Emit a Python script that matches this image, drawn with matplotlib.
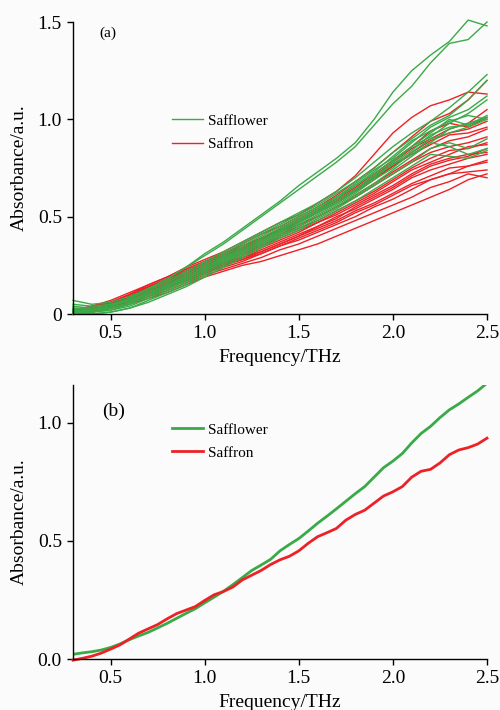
import matplotlib
matplotlib.use("Agg")
import matplotlib.pyplot as plt

plt.rcParams["font.family"] = ["Liberation Serif", "DejaVu Serif"]
plt.rcParams["mathtext.fontset"] = "stix"

# Frequency grid (THz) for the individual spectra
freq = [0.3, 0.4, 0.5, 0.6, 0.7, 0.8, 0.9, 1.0, 1.1, 1.2, 1.3, 1.4,
        1.5, 1.6, 1.7, 1.8, 1.9, 2.0, 2.1, 2.2, 2.3, 2.4, 2.5]

# Individual safflower spectra (absorbance, a.u.)
safflower_spectra = [
    [0.01, 0.02, 0.04, 0.08, 0.13, 0.18, 0.24, 0.31, 0.37, 0.44, 0.51, 0.58, 0.66, 0.73, 0.80, 0.88, 1.00, 1.14, 1.25, 1.33, 1.40, 1.51, 1.48],
    [0.01, 0.02, 0.04, 0.08, 0.13, 0.18, 0.24, 0.30, 0.36, 0.43, 0.50, 0.57, 0.64, 0.71, 0.78, 0.86, 0.97, 1.08, 1.17, 1.29, 1.39, 1.41, 1.50],
    [0.07, 0.05, 0.06, 0.09, 0.13, 0.17, 0.22, 0.27, 0.32, 0.37, 0.42, 0.47, 0.52, 0.57, 0.63, 0.70, 0.78, 0.86, 0.93, 0.99, 1.06, 1.14, 1.23],
    [0.03, 0.03, 0.05, 0.08, 0.12, 0.16, 0.21, 0.26, 0.31, 0.36, 0.41, 0.46, 0.51, 0.56, 0.62, 0.68, 0.75, 0.83, 0.90, 0.97, 1.02, 1.10, 1.20],
    [0.02, 0.02, 0.04, 0.07, 0.11, 0.15, 0.20, 0.25, 0.30, 0.35, 0.40, 0.45, 0.50, 0.55, 0.60, 0.67, 0.74, 0.80, 0.88, 0.96, 1.01, 1.05, 1.12],
    [0.01, 0.01, 0.03, 0.06, 0.10, 0.14, 0.19, 0.24, 0.29, 0.34, 0.39, 0.44, 0.49, 0.54, 0.60, 0.66, 0.72, 0.79, 0.86, 0.91, 0.98, 1.03, 1.10],
    [0.04, 0.03, 0.04, 0.07, 0.10, 0.14, 0.18, 0.23, 0.28, 0.33, 0.38, 0.43, 0.48, 0.53, 0.58, 0.64, 0.71, 0.77, 0.84, 0.92, 0.96, 0.97, 1.02],
    [0.00, 0.01, 0.02, 0.05, 0.09, 0.13, 0.17, 0.22, 0.27, 0.32, 0.37, 0.42, 0.47, 0.52, 0.57, 0.63, 0.70, 0.77, 0.82, 0.88, 0.95, 0.98, 1.01],
    [0.02, 0.01, 0.02, 0.04, 0.08, 0.12, 0.16, 0.21, 0.26, 0.31, 0.36, 0.41, 0.46, 0.51, 0.56, 0.62, 0.69, 0.75, 0.83, 0.90, 0.93, 0.96, 1.00],
    [0.01, 0.00, 0.01, 0.03, 0.07, 0.11, 0.15, 0.20, 0.25, 0.30, 0.35, 0.40, 0.45, 0.50, 0.55, 0.61, 0.67, 0.74, 0.81, 0.88, 0.86, 0.82, 0.85],
    [0.03, 0.02, 0.03, 0.05, 0.09, 0.13, 0.17, 0.22, 0.27, 0.31, 0.36, 0.40, 0.44, 0.49, 0.54, 0.60, 0.66, 0.72, 0.78, 0.85, 0.88, 0.85, 0.90],
    [0.02, 0.02, 0.03, 0.06, 0.10, 0.14, 0.18, 0.23, 0.28, 0.32, 0.37, 0.42, 0.47, 0.53, 0.59, 0.66, 0.73, 0.81, 0.89, 0.94, 0.99, 1.02, 1.00],
    [0.05, 0.04, 0.05, 0.07, 0.11, 0.15, 0.19, 0.24, 0.29, 0.33, 0.38, 0.43, 0.48, 0.52, 0.57, 0.63, 0.70, 0.78, 0.86, 0.93, 1.00, 0.97, 1.01],
    [0.00, 0.00, 0.01, 0.03, 0.06, 0.10, 0.14, 0.19, 0.24, 0.29, 0.34, 0.39, 0.43, 0.48, 0.53, 0.58, 0.64, 0.70, 0.76, 0.82, 0.81, 0.80, 0.84],
]

# Individual saffron spectra (absorbance, a.u.)
saffron_spectra = [
    [0.01, 0.03, 0.06, 0.10, 0.15, 0.19, 0.24, 0.28, 0.32, 0.37, 0.42, 0.47, 0.51, 0.57, 0.63, 0.71, 0.82, 0.93, 1.01, 1.07, 1.10, 1.14, 1.13],
    [0.00, 0.02, 0.05, 0.09, 0.14, 0.18, 0.23, 0.27, 0.31, 0.36, 0.41, 0.45, 0.50, 0.55, 0.61, 0.68, 0.75, 0.83, 0.91, 0.99, 1.03, 1.10, 1.20],
    [0.01, 0.03, 0.06, 0.10, 0.14, 0.18, 0.22, 0.26, 0.30, 0.34, 0.39, 0.44, 0.49, 0.54, 0.59, 0.65, 0.72, 0.79, 0.86, 0.94, 0.98, 0.96, 1.01],
    [0.00, 0.02, 0.05, 0.09, 0.13, 0.17, 0.21, 0.25, 0.29, 0.33, 0.38, 0.43, 0.47, 0.52, 0.57, 0.63, 0.69, 0.76, 0.82, 0.87, 0.92, 0.93, 0.96],
    [0.01, 0.03, 0.05, 0.08, 0.12, 0.16, 0.20, 0.24, 0.28, 0.32, 0.36, 0.41, 0.45, 0.50, 0.55, 0.60, 0.66, 0.72, 0.78, 0.83, 0.86, 0.88, 0.91],
    [0.00, 0.02, 0.04, 0.08, 0.12, 0.16, 0.20, 0.24, 0.27, 0.31, 0.35, 0.40, 0.44, 0.48, 0.53, 0.58, 0.63, 0.69, 0.75, 0.80, 0.84, 0.85, 0.88],
    [0.02, 0.03, 0.05, 0.08, 0.11, 0.15, 0.19, 0.23, 0.26, 0.30, 0.34, 0.38, 0.42, 0.47, 0.51, 0.56, 0.61, 0.66, 0.72, 0.77, 0.80, 0.82, 0.83],
    [0.00, 0.01, 0.04, 0.07, 0.11, 0.14, 0.18, 0.22, 0.26, 0.29, 0.33, 0.37, 0.41, 0.45, 0.50, 0.54, 0.59, 0.64, 0.70, 0.74, 0.77, 0.80, 0.82],
    [0.01, 0.02, 0.04, 0.07, 0.10, 0.14, 0.17, 0.21, 0.25, 0.28, 0.32, 0.36, 0.40, 0.44, 0.48, 0.53, 0.57, 0.62, 0.67, 0.71, 0.75, 0.76, 0.78],
    [0.00, 0.01, 0.03, 0.06, 0.10, 0.13, 0.17, 0.21, 0.24, 0.27, 0.31, 0.35, 0.38, 0.42, 0.46, 0.50, 0.55, 0.59, 0.64, 0.69, 0.72, 0.73, 0.74],
    [0.01, 0.02, 0.04, 0.06, 0.09, 0.12, 0.16, 0.20, 0.23, 0.26, 0.29, 0.33, 0.36, 0.40, 0.44, 0.48, 0.52, 0.56, 0.60, 0.65, 0.68, 0.72, 0.70],
    [0.00, 0.01, 0.03, 0.05, 0.08, 0.11, 0.15, 0.19, 0.22, 0.25, 0.27, 0.30, 0.33, 0.36, 0.40, 0.44, 0.48, 0.52, 0.56, 0.60, 0.64, 0.69, 0.72],
    [0.02, 0.04, 0.07, 0.11, 0.15, 0.19, 0.23, 0.27, 0.31, 0.35, 0.39, 0.43, 0.48, 0.53, 0.58, 0.64, 0.71, 0.78, 0.85, 0.90, 0.95, 0.98, 1.05],
    [0.01, 0.03, 0.06, 0.09, 0.13, 0.17, 0.21, 0.25, 0.29, 0.33, 0.37, 0.42, 0.46, 0.50, 0.55, 0.61, 0.67, 0.73, 0.79, 0.85, 0.89, 0.91, 0.95],
    [0.00, 0.02, 0.05, 0.08, 0.12, 0.16, 0.19, 0.23, 0.27, 0.31, 0.35, 0.39, 0.43, 0.47, 0.52, 0.57, 0.62, 0.68, 0.74, 0.78, 0.82, 0.86, 0.87],
    [0.02, 0.04, 0.06, 0.09, 0.12, 0.15, 0.18, 0.22, 0.25, 0.28, 0.31, 0.35, 0.39, 0.43, 0.47, 0.52, 0.56, 0.61, 0.66, 0.69, 0.72, 0.76, 0.79],
    [0.01, 0.03, 0.06, 0.10, 0.14, 0.18, 0.22, 0.26, 0.30, 0.34, 0.38, 0.43, 0.48, 0.53, 0.58, 0.64, 0.70, 0.76, 0.83, 0.89, 0.93, 0.95, 0.99],
    [0.00, 0.01, 0.04, 0.07, 0.10, 0.14, 0.18, 0.22, 0.25, 0.29, 0.32, 0.36, 0.40, 0.45, 0.49, 0.55, 0.60, 0.65, 0.71, 0.76, 0.79, 0.81, 0.85],
]

# Mean spectra on a finer grid
freq_mean = [0.30, 0.35, 0.40, 0.45, 0.50, 0.55, 0.60, 0.65, 0.70, 0.75,
             0.80, 0.85, 0.90, 0.95, 1.00, 1.05, 1.10, 1.15, 1.20, 1.25,
             1.30, 1.35, 1.40, 1.45, 1.50, 1.55, 1.60, 1.65, 1.70, 1.75,
             1.80, 1.85, 1.90, 1.95, 2.00, 2.05, 2.10, 2.15, 2.20, 2.25,
             2.30, 2.35, 2.40, 2.45, 2.50]
safflower_mean = [0.020, 0.026, 0.031, 0.038, 0.049, 0.064, 0.082, 0.098, 0.113, 0.132,
                  0.151, 0.172, 0.193, 0.213, 0.238, 0.262, 0.287, 0.315, 0.345, 0.375,
                  0.398, 0.422, 0.458, 0.485, 0.510, 0.542, 0.575, 0.605, 0.636, 0.668,
                  0.700, 0.730, 0.770, 0.810, 0.838, 0.870, 0.915, 0.955, 0.985, 1.022,
                  1.055, 1.080, 1.108, 1.135, 1.168]
saffron_mean = [-0.005, 0.003, 0.012, 0.025, 0.042, 0.060, 0.085, 0.110, 0.128, 0.146,
                0.170, 0.192, 0.207, 0.222, 0.248, 0.272, 0.286, 0.305, 0.335, 0.355,
                0.375, 0.400, 0.420, 0.435, 0.458, 0.490, 0.518, 0.535, 0.553, 0.588,
                0.612, 0.630, 0.660, 0.690, 0.708, 0.730, 0.770, 0.795, 0.803, 0.830,
                0.865, 0.885, 0.895, 0.910, 0.935]

xticks = [0.5, 1.0, 1.5, 2.0, 2.5]
xticklabels = ["0.5", "1.0", "1.5", "2.0", "2.5"]
yticks_a = [0, 0.5, 1.0, 1.5]
yticklabels_a = ["0", "0.5", "1.0", "1.5"]
yticks_b = [0.0, 0.5, 1.0]
yticklabels_b = ["0.0", "0.5", "1.0"]

GREEN = "#3aaa48"
RED = "#ec2227"
BG = "#fbfbfb"

fig = plt.figure(figsize=(5.0, 7.1), dpi=100, facecolor=BG)
ax_a = fig.add_axes([0.146, 0.5577, 0.828, 0.4113])
ax_b = fig.add_axes([0.146, 0.0718, 0.828, 0.3859])


def style_axes(ax):
    ax.set_facecolor(BG)
    for side in ("top", "right"):
        ax.spines[side].set_visible(False)
    for side in ("left", "bottom"):
        ax.spines[side].set_linewidth(1.0)
    ax.tick_params(direction="out", length=4, width=1.0, labelsize=14, pad=4)
    ax.set_xlim(0.3, 2.5)
    ax.set_xticks(xticks)
    ax.set_xticklabels(xticklabels)
    ax.set_xlabel("Frequency/THz", fontsize=14, labelpad=5)
    ax.set_ylabel("Absorbance/a.u.", fontsize=14, labelpad=7)


legend_kw = dict(loc="upper left", frameon=False, fontsize=11,
                 handlelength=2.0, handletextpad=0.35, labelspacing=0.62,
                 borderpad=0, borderaxespad=0)

# (a) individual spectra
for i, s in enumerate(saffron_spectra):
    ax_a.plot(freq, s, color=RED, lw=1.0, clip_on=False,
              label="Saffron" if i == 0 else None)
for i, s in enumerate(safflower_spectra):
    ax_a.plot(freq, s, color=GREEN, lw=1.0, clip_on=False,
              label="Safflower" if i == 0 else None)
style_axes(ax_a)
ax_a.set_ylim(0, 1.5)
ax_a.set_yticks(yticks_a)
ax_a.set_yticklabels(yticklabels_a)
h, l = ax_a.get_legend_handles_labels()
ax_a.legend(h[::-1], l[::-1], bbox_to_anchor=(0.239, 0.685), **legend_kw)
ax_a.text(0.085, 0.962, "(a)", transform=ax_a.transAxes, fontsize=11,
          ha="center", va="center")

# (b) mean spectra
ax_b.plot(freq_mean, safflower_mean, color=GREEN, lw=2.0, label="Safflower")
ax_b.plot(freq_mean, saffron_mean, color=RED, lw=2.0, label="Saffron",
          clip_on=False)
style_axes(ax_b)
ax_b.set_ylim(0.0, 1.16)
ax_b.set_yticks(yticks_b)
ax_b.set_yticklabels(yticklabels_b)
ax_b.legend(bbox_to_anchor=(0.239, 0.862), **legend_kw)
ax_b.text(0.097, 0.905, "(b)", transform=ax_b.transAxes, fontsize=14,
          ha="center", va="center")

fig.savefig("out.png", dpi=100, facecolor=BG)
